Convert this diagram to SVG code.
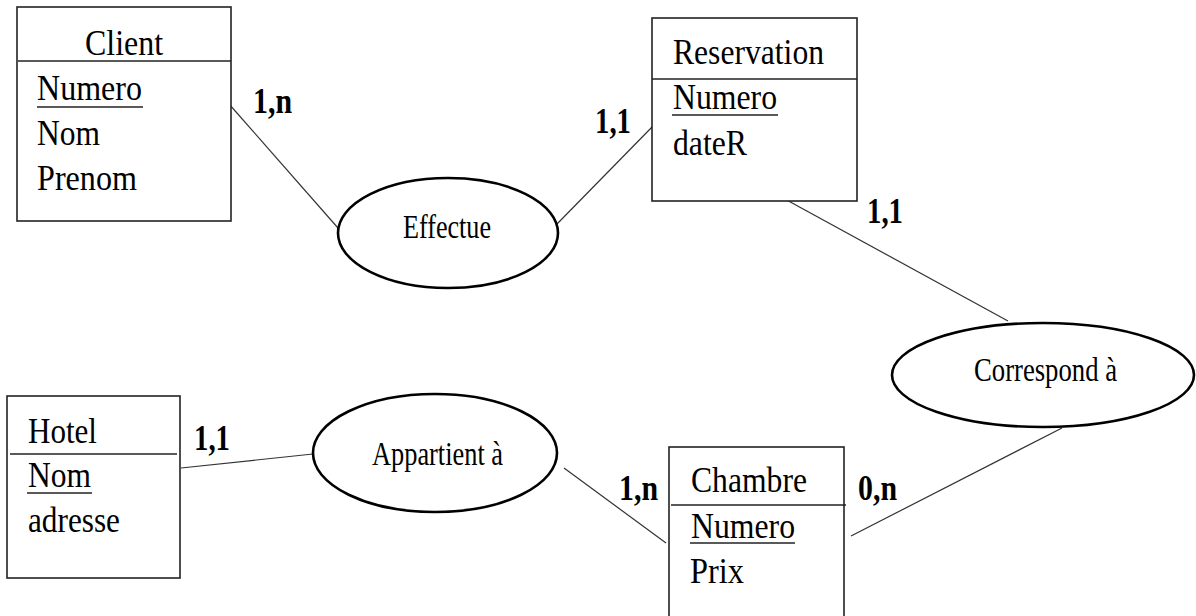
<svg xmlns="http://www.w3.org/2000/svg" width="1196" height="616" viewBox="0 0 1196 616" font-family="Liberation Serif, Times New Roman, serif">
  <style>
    .box { fill: #fff; stroke: #222; stroke-width: 1.6; }
    .div { stroke: #222; stroke-width: 1.6; }
    .rel { fill: #fff; stroke: #000; stroke-width: 2.6; }
    .link { stroke: #333; stroke-width: 1.2; fill: none; }
    .ul { stroke: #222; stroke-width: 1.4; }
    .ent { font-size: 36px; fill: #000; }
    .lbl { font-size: 33px; fill: #000; }
    .card { font-size: 36px; font-weight: bold; fill: #000; }
  </style>

  <!-- connectors -->
  <g id="connectors">
    <line class="link" x1="229" y1="104" x2="338" y2="228"/>
    <line class="link" x1="557" y1="224" x2="654" y2="125"/>
    <line class="link" x1="783" y1="198" x2="1008" y2="321"/>
    <line class="link" x1="181" y1="468" x2="313" y2="454"/>
    <line class="link" x1="564" y1="468" x2="666" y2="543"/>
    <line class="link" x1="851" y1="536" x2="1062" y2="428"/>
  </g>

  <!-- entities -->
  <g id="client">
    <rect class="box" x="17" y="7" width="214" height="214"/>
    <line class="div" x1="18" y1="61" x2="231" y2="61"/>
    <text class="ent" x="85" y="55" textLength="78" lengthAdjust="spacingAndGlyphs">Client</text>
    <text class="ent" x="37" y="100" textLength="105" lengthAdjust="spacingAndGlyphs">Numero</text>
    <line class="ul" x1="37" y1="107" x2="143" y2="107"/>
    <text class="ent" x="37" y="145" textLength="63" lengthAdjust="spacingAndGlyphs">Nom</text>
    <text class="ent" x="37" y="190" textLength="100" lengthAdjust="spacingAndGlyphs">Prenom</text>
  </g>

  <g id="reservation">
    <rect class="box" x="652" y="18" width="205" height="183"/>
    <line class="div" x1="652" y1="79" x2="857" y2="79"/>
    <text class="ent" x="673" y="64" textLength="151" lengthAdjust="spacingAndGlyphs">Reservation</text>
    <text class="ent" x="673" y="109" textLength="104" lengthAdjust="spacingAndGlyphs">Numero</text>
    <line class="ul" x1="672" y1="115" x2="778" y2="115"/>
    <text class="ent" x="673" y="155" textLength="74" lengthAdjust="spacingAndGlyphs">dateR</text>
  </g>

  <g id="hotel">
    <rect class="box" x="7" y="396" width="173" height="182"/>
    <line class="div" x1="10" y1="454" x2="177" y2="454"/>
    <text class="ent" x="28" y="443" textLength="69" lengthAdjust="spacingAndGlyphs">Hotel</text>
    <text class="ent" x="28" y="487" textLength="63" lengthAdjust="spacingAndGlyphs">Nom</text>
    <line class="ul" x1="27" y1="493" x2="92" y2="493"/>
    <text class="ent" x="28" y="532" textLength="92" lengthAdjust="spacingAndGlyphs">adresse</text>
  </g>

  <g id="chambre">
    <rect class="box" x="669" y="447" width="175" height="180"/>
    <line class="div" x1="671" y1="505" x2="846" y2="505"/>
    <text class="ent" x="691" y="492" textLength="116" lengthAdjust="spacingAndGlyphs">Chambre</text>
    <text class="ent" x="691" y="538" textLength="104" lengthAdjust="spacingAndGlyphs">Numero</text>
    <line class="ul" x1="690" y1="543" x2="795" y2="543"/>
    <text class="ent" x="690" y="583" textLength="54" lengthAdjust="spacingAndGlyphs">Prix</text>
  </g>

  <!-- relationships -->
  <g id="effectue">
    <ellipse class="rel" cx="448" cy="233" rx="110" ry="55"/>
    <text class="lbl" x="403" y="238" textLength="88" lengthAdjust="spacingAndGlyphs">Effectue</text>
  </g>

  <g id="correspond">
    <ellipse class="rel" cx="1043" cy="375" rx="151" ry="52"/>
    <text class="lbl" x="974" y="381" textLength="143" lengthAdjust="spacingAndGlyphs">Correspond à</text>
  </g>

  <g id="appartient">
    <ellipse class="rel" cx="435" cy="453" rx="122" ry="59"/>
    <text class="lbl" x="372" y="465" textLength="131" lengthAdjust="spacingAndGlyphs">Appartient à</text>
  </g>

  <!-- cardinalities -->
  <g id="cardinalities">
    <text class="card" x="253" y="113" textLength="39" lengthAdjust="spacingAndGlyphs">1,n</text>
    <text class="card" x="595" y="133" textLength="36" lengthAdjust="spacingAndGlyphs">1,1</text>
    <text class="card" x="867" y="223" textLength="36" lengthAdjust="spacingAndGlyphs">1,1</text>
    <text class="card" x="194" y="450" textLength="36" lengthAdjust="spacingAndGlyphs">1,1</text>
    <text class="card" x="619" y="500" textLength="39" lengthAdjust="spacingAndGlyphs">1,n</text>
    <text class="card" x="858" y="500" textLength="39" lengthAdjust="spacingAndGlyphs">0,n</text>
  </g>
</svg>
